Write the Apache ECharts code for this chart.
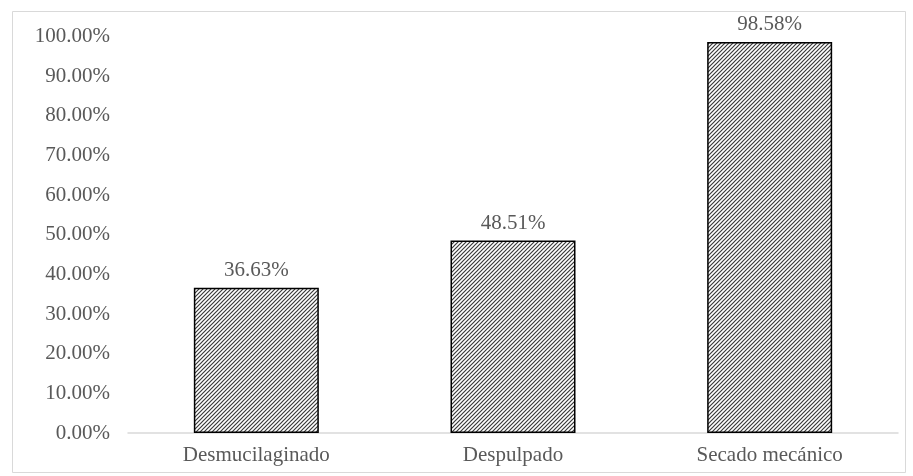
<!DOCTYPE html>
<html>
<head>
<meta charset="utf-8">
<script src="https://cdn.jsdelivr.net/npm/echarts@6/dist/echarts.min.js"></script>
<style>
  html, body { margin: 0; padding: 0; background: #ffffff; }
  #chart { width: 913px; height: 476px; }
</style>
</head>
<body>
<div id="chart"></div>
<script>
// Processing stages and their percentages
const categories = ['Desmucilaginado', 'Despulpado', 'Secado mecánico'];
const values = [36.63, 48.51, 98.58];
const yTicks = [0, 10, 20, 30, 40, 50, 60, 70, 80, 90, 100];

// Diagonal hatch fill for the bars
function hatchPattern() {
  const c = document.createElement('canvas');
  c.width = 4; c.height = 4;
  const g = c.getContext('2d');
  g.fillStyle = '#ffffff';
  g.fillRect(0, 0, 4, 4);
  g.strokeStyle = '#3a3a3a';
  g.lineWidth = 1.2;
  g.beginPath();
  g.moveTo(0, 4); g.lineTo(4, 0);
  g.moveTo(-1, 1); g.lineTo(1, -1);
  g.moveTo(3, 5); g.lineTo(5, 3);
  g.stroke();
  return c;
}

const textColor = '#595959';
const fontFamily = '"Liberation Serif", "Times New Roman", serif';

const chart = echarts.init(document.getElementById('chart'), null, { renderer: 'canvas' });
chart.setOption({
  animation: false,
  backgroundColor: '#ffffff',
  graphic: [{
    type: 'rect',
    shape: { x: 12.5, y: 11.5, width: 893, height: 461 },
    style: { fill: 'none', stroke: '#d9d9d9', lineWidth: 1 },
    silent: true
  }],
  grid: { left: 128, right: 15, top: 36.4, bottom: 43, containLabel: false },
  xAxis: {
    type: 'category',
    data: categories,
    axisLine: { show: true, lineStyle: { color: '#d9d9d9', width: 1.5 } },
    axisTick: { show: false },
    axisLabel: { color: textColor, fontFamily, fontSize: 21, margin: 12 }
  },
  yAxis: {
    type: 'value',
    min: yTicks[0],
    max: yTicks[yTicks.length - 1],
    interval: 10,
    axisLine: { show: false },
    axisTick: { show: false },
    splitLine: { show: false },
    axisLabel: {
      color: textColor, fontFamily, fontSize: 21, margin: 18,
      formatter: v => v.toFixed(2) + '%'
    }
  },
  series: [{
    type: 'bar',
    data: values,
    barWidth: 125,
    itemStyle: {
      color: { image: hatchPattern(), repeat: 'repeat' },
      borderColor: '#000000',
      borderWidth: 1.5
    },
    label: {
      show: true,
      position: 'top',
      distance: 7,
      color: textColor,
      fontFamily,
      fontSize: 21,
      formatter: p => p.value.toFixed(2) + '%'
    }
  }]
});
</script>
</body>
</html>
